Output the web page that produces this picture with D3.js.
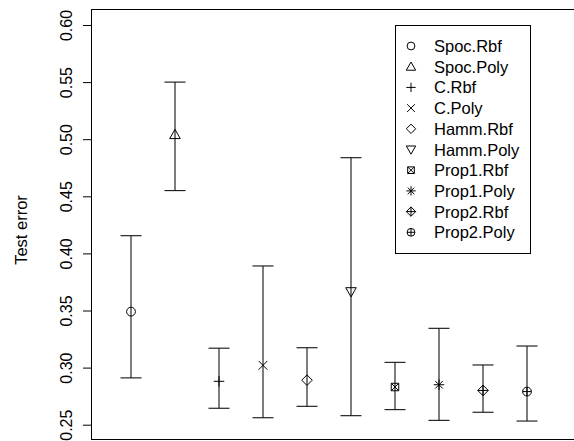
<!DOCTYPE html>
<html>
<head>
<meta charset="utf-8">
<script src="https://cdn.jsdelivr.net/npm/d3@7"></script>
<style>
  body { margin: 0; background: #fff; }
  svg { display: block; font-family: "Liberation Sans", Arial, sans-serif; }
</style>
</head>
<body>
<svg id="chart" width="574" height="441"></svg>
<script>
// methods, one error bar per method
const methods = ["Spoc.Rbf", "Spoc.Poly", "C.Rbf", "C.Poly", "Hamm.Rbf",
                 "Hamm.Poly", "Prop1.Rbf", "Prop1.Poly", "Prop2.Rbf", "Prop2.Poly"];
const meanErr  = [0.349, 0.504, 0.288, 0.302, 0.289, 0.3665, 0.283, 0.285, 0.280, 0.279];
const upperErr = [0.4155, 0.550, 0.317, 0.389, 0.3174, 0.4838, 0.3046, 0.3344, 0.3023, 0.3189];
const lowerErr = [0.291, 0.455, 0.2644, 0.2561, 0.2661, 0.2579, 0.2632, 0.2538, 0.2609, 0.2532];
const yTicks = [0.25, 0.30, 0.35, 0.40, 0.45, 0.50, 0.55, 0.60];

const data = methods.map((m, i) => ({
  name: m, idx: i + 1, mean: meanErr[i], hi: upperErr[i], lo: lowerErr[i]
}));

const svg = d3.select("#chart");

const x = d3.scaleLinear().domain([0.1, 10.9]).range([91.4, 566.6]);
const y = d3.scaleLinear().domain([0.25, 0.60]).range([424.7, 25]);

const boxTop = 9, boxBottom = 439;

// plot box (right side falls outside the picture)
svg.append("rect")
  .attr("x", 91.5).attr("y", boxTop + 0.5)
  .attr("width", 600).attr("height", boxBottom - boxTop)
  .attr("fill", "none").attr("stroke", "#000").attr("stroke-width", 1);

// y axis
const yAxis = svg.append("g")
  .attr("transform", "translate(91.5,0)")
  .call(d3.axisLeft(y).tickValues(yTicks).tickSize(8.5).tickFormat(d3.format(".2f")));
yAxis.select(".domain").remove();
yAxis.selectAll("line").attr("stroke", "#000");
yAxis.selectAll("text")
  .attr("x", 0).attr("dy", 0).attr("y", 0)
  .attr("transform", "translate(-25,0) rotate(-90)")
  .attr("text-anchor", "middle")
  .attr("dominant-baseline", "central")
  .style("font-size", "16px")
  .style("font-family", "Liberation Sans, Arial, sans-serif")
  .attr("fill", "#000");

svg.append("text")
  .attr("transform", "translate(21," + ((boxTop + boxBottom) / 2 + 6) + ") rotate(-90)")
  .attr("text-anchor", "middle")
  .attr("dominant-baseline", "central")
  .style("font-size", "16.5px")
  .text("Test error");

// error bars
const capW = 10.5;
const bars = svg.append("g").attr("stroke", "#111").attr("stroke-width", 1.1).attr("fill", "none");
data.forEach(d => {
  const cx = Math.round(x(d.idx));
  bars.append("line").attr("x1", cx).attr("x2", cx).attr("y1", y(d.hi)).attr("y2", y(d.lo));
  bars.append("line").attr("x1", cx - capW).attr("x2", cx + capW).attr("y1", y(d.hi)).attr("y2", y(d.hi));
  bars.append("line").attr("x1", cx - capW).attr("x2", cx + capW).attr("y1", y(d.lo)).attr("y2", y(d.lo));
});

// R style plotting characters 1..10
function drawPch(g, pch, cx, cy, s) {
  const st = sel => sel.attr("stroke", "#000").attr("stroke-width", 1).attr("fill", "none");
  const line = (x1, y1, x2, y2) => st(g.append("line").attr("x1", cx + x1).attr("y1", cy + y1).attr("x2", cx + x2).attr("y2", cy + y2));
  const circle = r => st(g.append("circle").attr("cx", cx).attr("cy", cy).attr("r", r).attr("fill", "#fff"));
  const poly = pts => st(g.append("polygon").attr("fill", "#fff").attr("points", pts.map(p => (cx + p[0]) + "," + (cy + p[1])).join(" ")));
  const t = s * 1.2;
  const q = s * 0.85;
  if (pch === 1) circle(s);
  if (pch === 2) poly([[0, -t], [t, t * 0.75], [-t, t * 0.75]]);
  if (pch === 3) { line(-t, 0, t, 0); line(0, -t, 0, t); }
  if (pch === 4) { line(-s, -s, s, s); line(-s, s, s, -s); }
  if (pch === 5) poly([[0, -t], [t, 0], [0, t], [-t, 0]]);
  if (pch === 6) poly([[0, t], [t, -t * 0.75], [-t, -t * 0.75]]);
  if (pch === 7) { poly([[-q, -q], [q, -q], [q, q], [-q, q]]); line(-q, -q, q, q); line(-q, q, q, -q); }
  if (pch === 8) { line(-t, 0, t, 0); line(0, -t, 0, t); line(-q, -q, q, q); line(-q, q, q, -q); }
  if (pch === 9) { poly([[0, -t], [t, 0], [0, t], [-t, 0]]); line(-t, 0, t, 0); line(0, -t, 0, t); }
  if (pch === 10) { circle(s); line(-s, 0, s, 0); line(0, -s, 0, s); }
}

const pts = svg.append("g");
data.forEach(d => drawPch(pts, d.idx, Math.round(x(d.idx)), y(d.mean), 4.4));

// legend
const lg = svg.append("g");
lg.append("rect")
  .attr("x", 395.5).attr("y", 25.5).attr("width", 135).attr("height", 228)
  .attr("fill", "#fff").attr("stroke", "#000").attr("stroke-width", 1);
methods.forEach((m, i) => {
  const ly = 46 + i * 20.7;
  const gg = lg.append("g");
  drawPch(gg, i + 1, 411, ly, 3.9);
  lg.append("text")
    .attr("x", 434).attr("y", ly)
    .attr("dominant-baseline", "central")
    .style("font-size", "16.5px")
    .text(m);
});
</script>
</body>
</html>
